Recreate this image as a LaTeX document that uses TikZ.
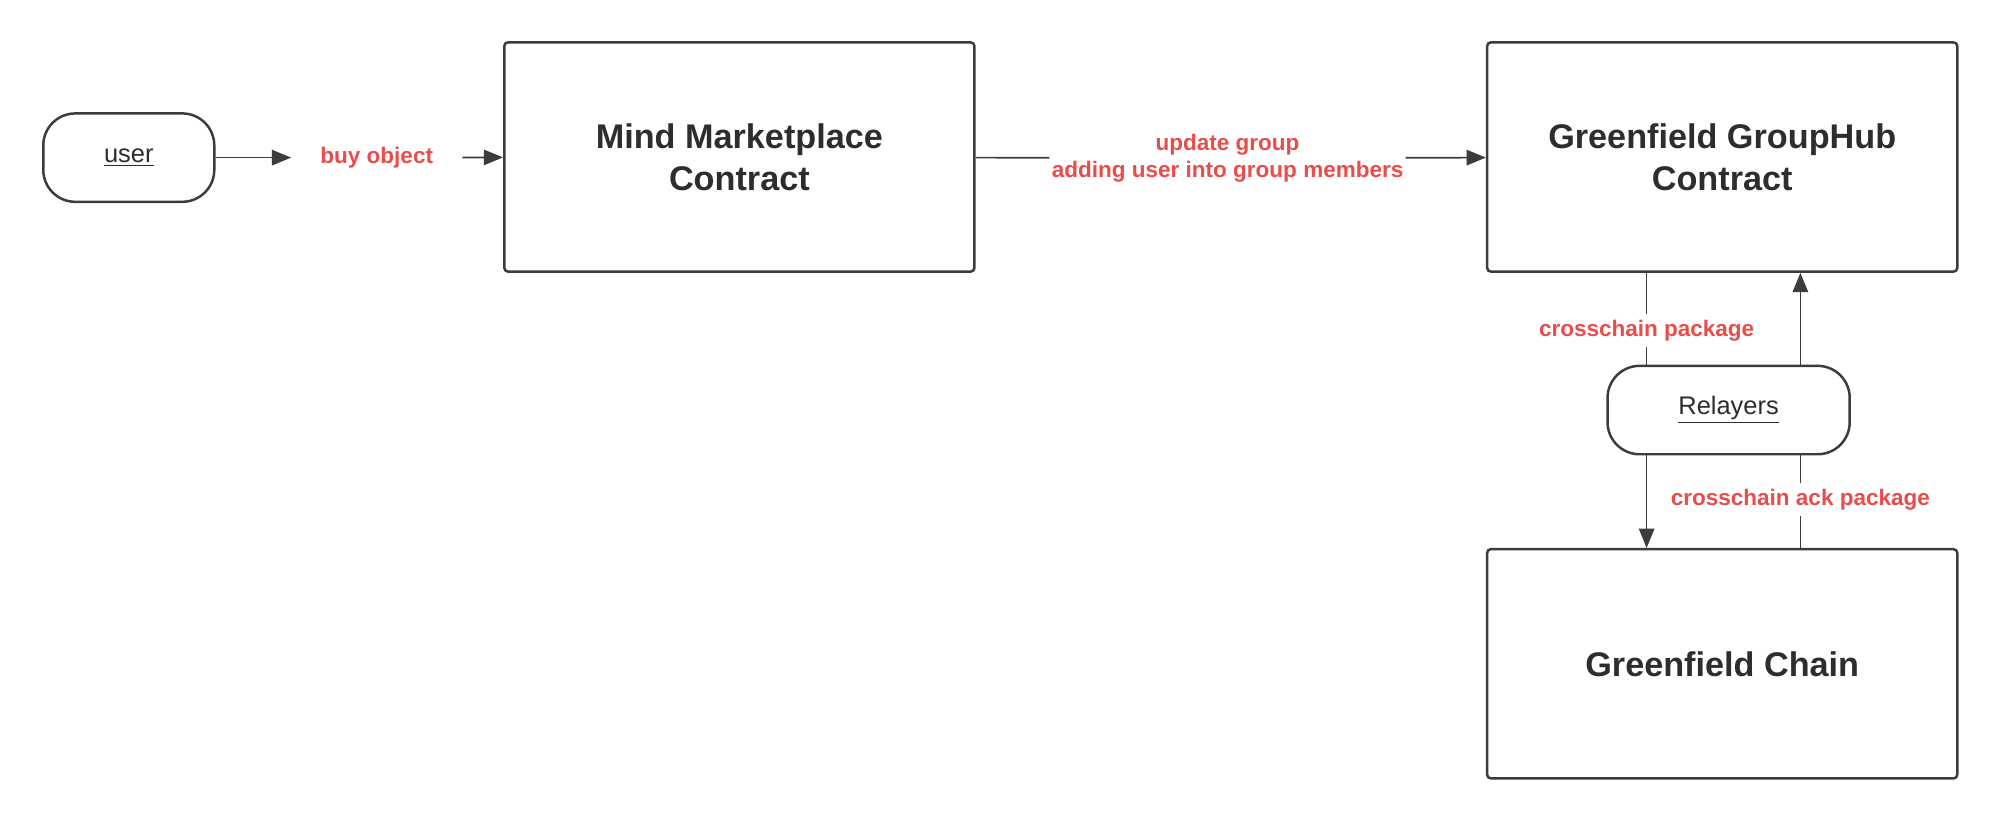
\documentclass[tikz,border=0pt]{standalone}
\usepackage{fontspec}
\setmainfont{Liberation Sans}
\usetikzlibrary{arrows.meta}
\definecolor{inkgray}{RGB}{58,60,64}
\definecolor{textgray}{RGB}{45,45,45}
\definecolor{labelred}{RGB}{234,76,76}
\begin{document}
\begin{tikzpicture}[x=0.02cm, y=-0.02cm]
      \tikzset{
	  contract/.style={rectangle,rounded corners=0.06cm,draw=inkgray,line width=1.1pt, minimum width=7.34cm, minimum height=3.58cm, align=center, text=textgray, font=\bfseries\fontsize{15.2}{18.8}\selectfont},
	  actor/.style={rectangle,rounded corners=0.5cm,draw=inkgray,line width=1.1pt, minimum height=1.38cm, text=textgray, font=\fontsize{11.3}{13}\selectfont},
	  mylabel/.style={text=labelred, align=center, font=\bfseries\fontsize{10}{12.4}\selectfont, inner ysep=0.085cm},
	  link/.style={draw=inkgray, line width=0.75pt},
	  arr/.style={link, -{Triangle[length=0.3cm, width=0.24cm]}}
      }
      \useasboundingbox (0,0) rectangle (1560,641.5);

      % top row
      \node [actor, minimum width=2.67cm] (user) at (100.5,123) {\underline{user}};
      \node [mylabel, inner xsep=0.45cm] (buy) at (294,123) {buy object};
      \node [contract] (mind) at (577,122.5) {Mind Marketplace\\Contract};
      \node [mylabel, inner xsep=0.03cm] (upd) at (958,123.5) {update group\\adding user into group members};
      \node [contract] (hub) at (1344,122.5) {Greenfield GroupHub\\Contract};

      % right column
      \node [actor, minimum width=3.78cm] (relay) at (1349,320) {\underline{Relayers}};
      \node [contract] (chain) at (1344,518) {Greenfield Chain};
      \node [mylabel] (pkg) at (1285,258) {crosschain package};
      \node [mylabel] (ack) at (1405,390) {crosschain ack package};

      \draw [arr] (user) -- (buy);
      \draw [arr] (buy) -- (mind);
      \draw [link] (mind) -- (upd);
      \draw [arr] (upd) -- (hub);

      \draw [link] (hub.south -| pkg) -- (pkg);
      \draw [link] (pkg) -- (relay.north -| pkg);
      \draw [arr] (relay.south -| pkg) -- (chain.north -| pkg);
      \draw [link] (chain.north -| ack) -- (ack);
      \draw [link] (ack) -- (relay.south -| ack);
      \draw [arr] (relay.north -| ack) -- (hub.south -| ack);
\end{tikzpicture}
\end{document}
